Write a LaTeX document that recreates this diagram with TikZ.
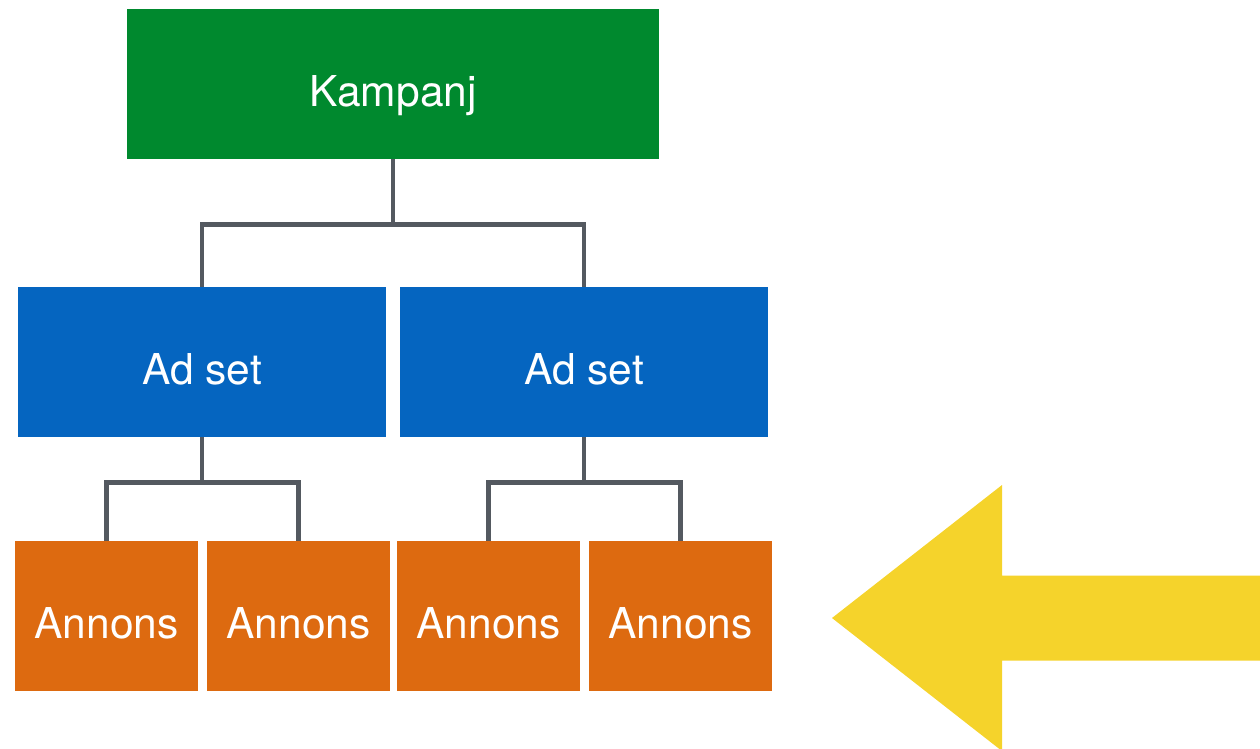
\documentclass[tikz,border=0pt]{standalone}
\usepackage{fontspec}
\setmainfont{TeX Gyre Heros}
\definecolor{kgreen}{RGB}{0,137,46}
\definecolor{kblue}{RGB}{5,101,192}
\definecolor{korange}{RGB}{221,106,16}
\definecolor{kyellow}{RGB}{245,211,43}
\definecolor{kgray}{RGB}{84,89,96}
\begin{document}
\begin{tikzpicture}[x=1pt,y=-1pt,
  box/.style={rectangle, inner sep=0pt, minimum height=150pt, text=white,
    font=\fontsize{42.5}{50}\selectfont, text height=44pt, text depth=0pt},
  camp/.style={box, fill=kgreen, minimum width=532pt},
  adset/.style={box, fill=kblue, minimum width=368pt},
  ad/.style={box, fill=korange, minimum width=183pt},
  conn/.style={draw=kgray, line width=4.5pt}]
\useasboundingbox (0,0) rectangle (1260,748);
\clip (0,0) rectangle (1260,748);
\node[camp] (k) at (393,84.25) {Kampanj};
\node[adset] (a1) at (202,362) {Ad set};
\node[adset] (a2) at (584,362) {Ad set};
\node[ad] (n1) at (106.5,616) {Annons};
\node[ad] (n2) at (298.5,616) {Annons};
\node[ad] (n3) at (488.5,616) {Annons};
\node[ad] (n4) at (680.5,616) {Annons};
\coordinate (jk) at (393,224.5);
\coordinate (j1) at (202,482.5);
\coordinate (j2) at (584,482.5);
\draw[conn] (k.south) -- (jk);
\draw[conn] (jk) -| (a1.north);
\draw[conn] (jk) -| (a2.north);
\draw[conn] (a1.south) -- (j1);
\draw[conn] (j1) -| (n1.north);
\draw[conn] (j1) -| (n2.north);
\draw[conn] (a2.south) -- (j2);
\draw[conn] (j2) -| (n3.north);
\draw[conn] (j2) -| (n4.north);
\fill[kyellow] (832,618) -- (1002,485) -- (1002,575.5) -- (1262,575.5)
  -- (1262,660.5) -- (1002,660.5) -- (1002,751) -- cycle;
\end{tikzpicture}
\end{document}
